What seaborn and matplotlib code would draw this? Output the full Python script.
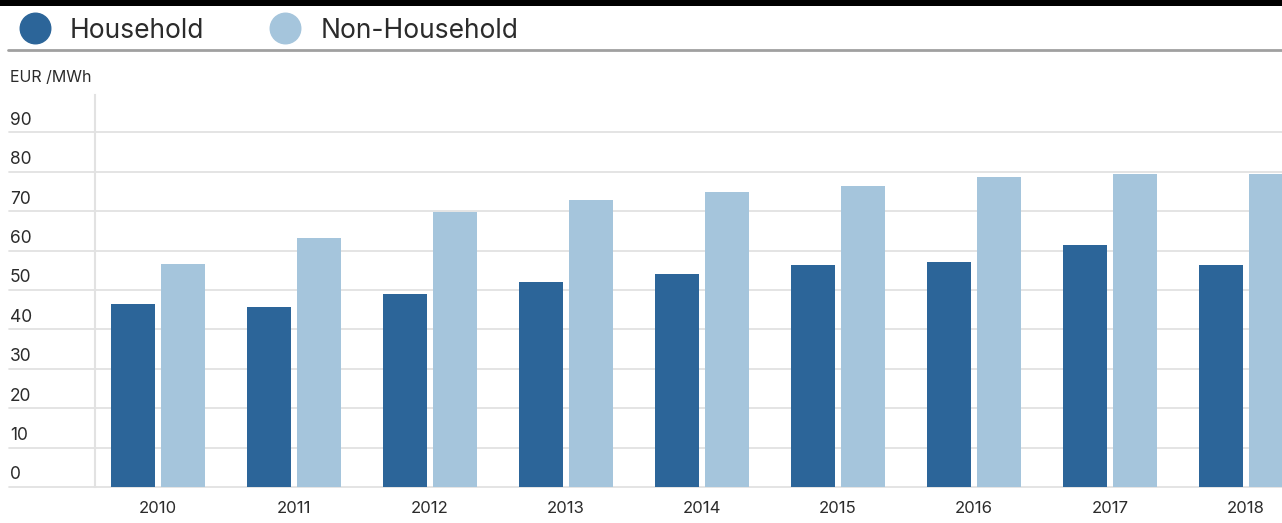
import matplotlib
matplotlib.use("Agg")
import matplotlib.pyplot as plt
import matplotlib.transforms as mtransforms
from matplotlib.lines import Line2D
from matplotlib.patches import Rectangle
import seaborn as sns
import pandas as pd

# Average electricity price by consumer group, EUR/MWh
years = ["2010", "2011", "2012", "2013", "2014", "2015", "2016", "2017", "2018"]
household = [46.4, 45.7, 49.0, 52.0, 54.1, 56.3, 57.1, 61.4, 56.3]
non_household = [56.6, 63.2, 69.8, 72.8, 74.9, 76.4, 78.7, 79.4, 79.4]
series_names = ["Household", "Non-Household"]
y_ticks = [0, 10, 20, 30, 40, 50, 60, 70, 80, 90]
unit_label = "EUR /MWh"

colors = ["#2c6599", "#a5c5dc"]
text_color = "#2b2b2b"
grid_color = "#e2e2e2"

df = pd.DataFrame({
    "year": years * 2,
    "value": household + non_household,
    "series": [series_names[0]] * len(years) + [series_names[1]] * len(years),
})

sns.set_theme(style="white")
plt.rcParams["font.family"] = ["Inter", "DejaVu Sans"]

W, H = 1282, 523
fig = plt.figure(figsize=(W / 100, H / 100), dpi=100)

# plot area in pixel coordinates
left_px, right_px, top_px, bottom_px = 95, 1282, 95, 487
ax = fig.add_axes([left_px / W, 1 - bottom_px / H,
                   (right_px - left_px) / W, (bottom_px - top_px) / H])

sns.barplot(data=df, x="year", y="value", hue="series", order=years,
            hue_order=series_names, palette=colors, width=0.735, gap=0.12,
            saturation=1, legend=False, ax=ax, zorder=2, linewidth=0)

ax.set_xlim(-0.463, 8.265)
ax.set_ylim(0, 99.5)
ax.set_xlabel("")
ax.set_ylabel("")

# horizontal grid lines reaching out to the left margin
for v in y_ticks:
    ax.axhline(v, xmin=(9 - left_px) / (right_px - left_px), xmax=1,
               color=grid_color, lw=1.3, zorder=0, clip_on=False)

for side in ["top", "right", "bottom"]:
    ax.spines[side].set_visible(False)
ax.spines["left"].set_color(grid_color)
ax.spines["left"].set_linewidth(1.5)
ax.spines["left"].set_zorder(0)

ax.set_yticks([])
ax.tick_params(axis="x", length=0, pad=10, labelsize=12, labelcolor=text_color)

# y labels sit just above their grid line, flush with the left margin
lab_tr = mtransforms.blended_transform_factory(fig.transFigure, ax.transData) + \
    mtransforms.ScaledTranslation(0, 2.6 / 72, fig.dpi_scale_trans)
for v in y_ticks:
    ax.text(10 / W, v, str(v), transform=lab_tr, ha="left", va="bottom",
            fontsize=12.5, color=text_color)

fig.text(10 / W, 1 - 77 / H, unit_label, ha="left", va="center",
         fontsize=11.5, color=text_color)

# header: black band, legend, grey rule
fig.patches.append(Rectangle((0, 1 - 6 / H), 1, 6 / H, transform=fig.transFigure,
                             facecolor="black", edgecolor="none"))
fig.add_artist(Line2D([8 / W, 1], [1 - 50 / H, 1 - 50 / H], transform=fig.transFigure,
                      color="#a0a0a0", lw=2))

handles = [Line2D([], [], marker="o", linestyle="none", markersize=22,
                  markerfacecolor=c, markeredgecolor=c) for c in colors]
fig.legend(handles, series_names, loc="center left",
           bbox_to_anchor=(19 / W, 1 - 30.5 / H), ncol=2, frameon=False,
           fontsize=19, labelcolor=text_color, handletextpad=0.72,
           columnspacing=2.48, borderaxespad=0, borderpad=0, handlelength=1.2)

fig.savefig("out.png", dpi=100)
